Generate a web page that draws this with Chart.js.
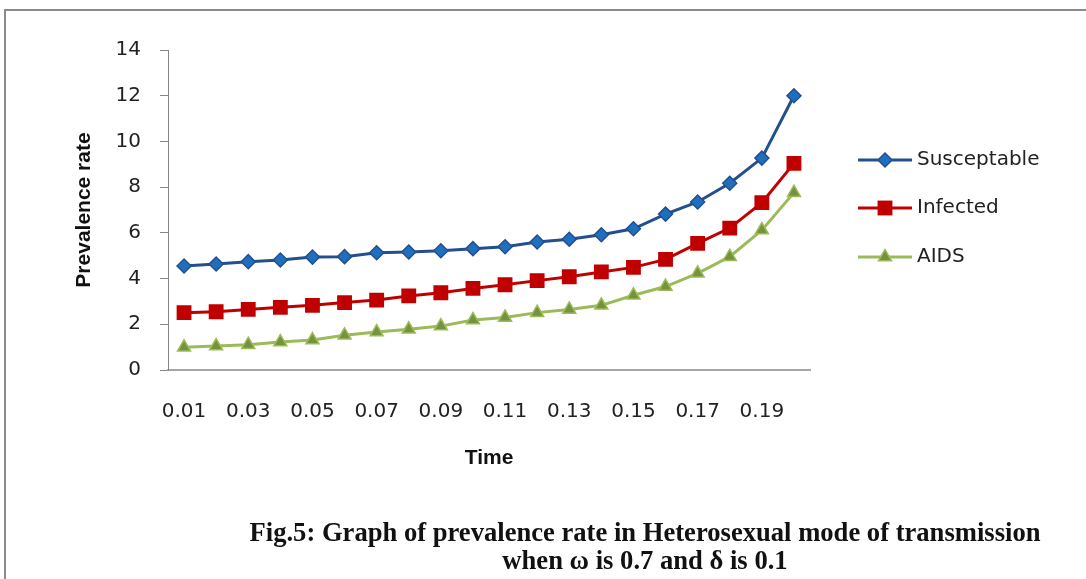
<!DOCTYPE html>
<html>
<head>
<meta charset="utf-8">
<script src="https://cdn.jsdelivr.net/npm/chart.js@4.4.1/dist/chart.umd.min.js"></script>
<style>
  html, body { margin: 0; padding: 0; background: #fff; }
  #wrap { position: relative; width: 1086px; height: 579px; overflow: hidden; }
  #frame { position: absolute; left: 4px; top: 9px; width: 1100px; height: 600px;
           border-left: 2px solid #8a8a8a; border-top: 2px solid #8a8a8a; }
  #c { position: absolute; left: 0; top: 0; }
  #caption { position: absolute; left: 0; width: 1290px; top: 518px; text-align: center;
             font-family: "Liberation Serif", "DejaVu Serif", serif; font-weight: bold;
             font-size: 28px; line-height: 28px; color: #111; white-space: nowrap;
             transform: scaleX(0.95); transform-origin: 645px 0; }
</style>
</head>
<body>
<div id="wrap">
  <div id="frame"></div>
  <canvas id="c" width="1086" height="579"></canvas>
  <div id="caption">Fig.5: Graph of prevalence rate in Heterosexual mode of transmission<br>when ω is 0.7 and δ is 0.1</div>
</div>
<script>
const categories = ['0.01','0.02','0.03','0.04','0.05','0.06','0.07','0.08','0.09','0.10',
                    '0.11','0.12','0.13','0.14','0.15','0.16','0.17','0.18','0.19','0.20'];
const susceptable = [4.55,4.64,4.74,4.81,4.94,4.96,5.13,5.16,5.22,5.31,5.39,5.60,5.72,5.92,6.18,6.82,7.35,8.17,9.27,12.0];
const infected    = [2.51,2.55,2.65,2.74,2.83,2.95,3.06,3.24,3.38,3.57,3.73,3.91,4.08,4.29,4.49,4.84,5.54,6.21,7.32,9.04];
const aids        = [0.99,1.05,1.11,1.22,1.31,1.52,1.66,1.78,1.92,2.19,2.30,2.51,2.65,2.83,3.27,3.65,4.23,4.96,6.12,7.76];
const seriesNames = ['Susceptable','Infected','AIDS'];
const yTicks = [0,2,4,6,8,10,12,14];
const xTitle = 'Time';
const yTitle = 'Prevalence rate';

const tickFont = { family: 'DejaVu Sans', size: 20 };

function drawMarker(ctx, style, x, y, r, fill, stroke, bw) {
  ctx.save();
  ctx.fillStyle = fill; ctx.strokeStyle = stroke; ctx.lineWidth = bw;
  ctx.beginPath();
  if (style === 'rectRot') {
    ctx.moveTo(x, y - r); ctx.lineTo(x + r, y); ctx.lineTo(x, y + r); ctx.lineTo(x - r, y); ctx.closePath();
  } else if (style === 'rect') {
    const s = r * Math.SQRT1_2; ctx.rect(x - s, y - s, 2 * s, 2 * s);
  } else if (style === 'triangle') {
    const h = r * 0.866;
    ctx.moveTo(x, y - r); ctx.lineTo(x + h, y + r / 2); ctx.lineTo(x - h, y + r / 2); ctx.closePath();
  }
  ctx.fill(); if (bw > 0) ctx.stroke();
  ctx.restore();
}

const customLegend = {
  id: 'customLegend',
  afterDraw(chart) {
    const ctx = chart.ctx;
    const ca = chart.chartArea;
    const rows = [160, 208, 257];
    chart.data.datasets.forEach((ds, i) => {
      const y = rows[i];
      const x0 = ca.right + 48, x1 = ca.right + 102;
      ctx.save();
      ctx.strokeStyle = ds.borderColor; ctx.lineWidth = ds.borderWidth;
      ctx.beginPath(); ctx.moveTo(x0, y); ctx.lineTo(x1, y); ctx.stroke();
      ctx.restore();
      drawMarker(ctx, ds.pointStyle, (x0 + x1) / 2, y, ds.pointRadius, ds.pointBackgroundColor, ds.pointBorderColor, ds.pointBorderWidth);
      ctx.save();
      ctx.fillStyle = '#222';
      ctx.font = '20px "DejaVu Sans"';
      ctx.textBaseline = 'middle';
      ctx.fillText(ds.label, x1 + 5, y);
      ctx.restore();
    });
  }
};

new Chart(document.getElementById('c'), {
  type: 'line',
  data: {
    labels: categories,
    datasets: [
      { label: seriesNames[0], data: susceptable, borderColor: '#23508c', borderWidth: 3,
        pointStyle: 'rectRot', pointRadius: 7, pointBackgroundColor: '#1f6fc0',
        pointBorderColor: '#23508c', pointBorderWidth: 1.5, tension: 0 },
      { label: seriesNames[1], data: infected, borderColor: '#c00000', borderWidth: 3,
        pointStyle: 'rect', pointRadius: 10.5, pointBackgroundColor: '#c00000',
        pointBorderColor: '#c00000', pointBorderWidth: 0, tension: 0 },
      { label: seriesNames[2], data: aids, borderColor: '#9bbb59', borderWidth: 3,
        pointStyle: 'triangle', pointRadius: 7.5, pointBackgroundColor: '#76923c',
        pointBorderColor: '#9bbb59', pointBorderWidth: 1.5, tension: 0 }
    ]
  },
  options: {
    responsive: false,
    animation: false,
    events: [],
    layout: { padding: { left: 70, right: 276, top: 50, bottom: 104 } },
    plugins: { legend: { display: false }, tooltip: { enabled: false } },
    scales: {
      x: {
        offset: true,
        grid: { display: false, drawTicks: false },
        border: { display: true, color: '#a6a6a6', width: 2 },
        ticks: {
          autoSkip: false, maxRotation: 0, color: '#222', font: tickFont, padding: 30,
          callback: function(v, i) { return i % 2 === 0 ? categories[i] : ''; }
        },
        title: { display: true, text: xTitle, color: '#111',
                 font: { family: 'Liberation Sans', size: 21, weight: 'bold' }, padding: { top: 18 } },
        afterFit: function(s) { s.height = 105; }
      },
      y: {
        min: 0, max: 14,
        afterBuildTicks: function(s) { s.ticks = yTicks.map(v => ({ value: v })); },
        grid: { drawOnChartArea: false, drawTicks: true, tickLength: 8, color: '#868686' },
        border: { display: true, color: '#868686', width: 1 },
        ticks: { color: '#222', font: tickFont, padding: 19 },
        title: { display: true, text: yTitle, color: '#111',
                 font: { family: 'Liberation Sans', size: 21, weight: 'bold' }, padding: { top: 2, bottom: 0 } },
        afterFit: function(s) { s.width = 98; }
      }
    }
  },
  plugins: [customLegend]
});
</script>
</body>
</html>
